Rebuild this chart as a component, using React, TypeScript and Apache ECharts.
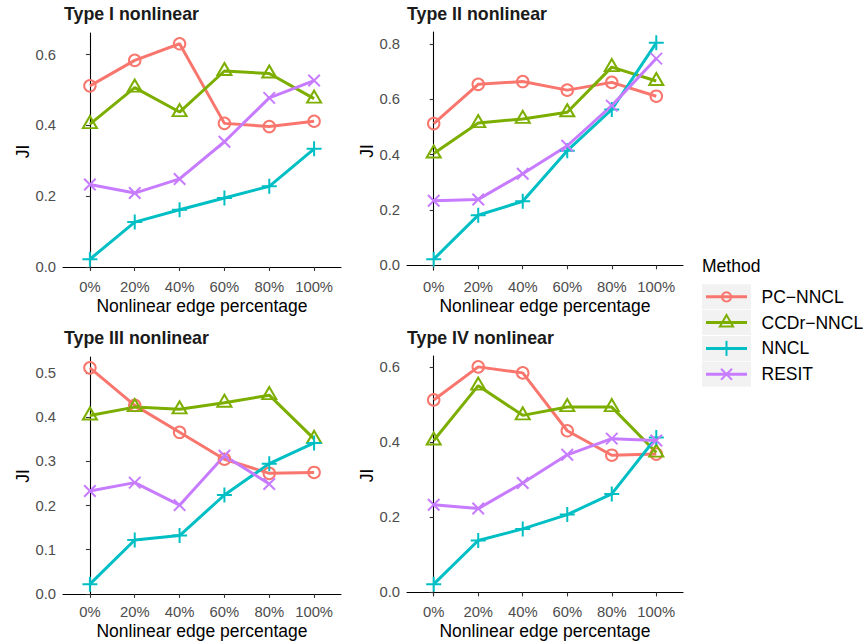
import React, { useEffect, useRef } from "react";
import * as echarts from "echarts";

// ---------- data ----------
const categories = ["0%", "20%", "40%", "60%", "80%", "100%"];
const methods = ["PC−NNCL", "CCDr−NNCL", "NNCL", "RESIT"];
const panelTitles = ["Type I nonlinear", "Type II nonlinear", "Type III nonlinear", "Type IV nonlinear"];

const type1PC = [0.512, 0.584, 0.631, 0.406, 0.397, 0.412];
const type1CCDr = [0.404, 0.507, 0.438, 0.554, 0.547, 0.476];
const type1NNCL = [0.022, 0.127, 0.162, 0.195, 0.228, 0.334];
const type1RESIT = [0.233, 0.209, 0.249, 0.354, 0.478, 0.527];

const type2PC = [0.512, 0.654, 0.664, 0.633, 0.661, 0.611];
const type2CCDr = [0.404, 0.514, 0.529, 0.553, 0.716, 0.666];
const type2NNCL = [0.022, 0.181, 0.231, 0.414, 0.563, 0.804];
const type2RESIT = [0.233, 0.238, 0.331, 0.432, 0.577, 0.747];

const type3PC = [0.512, 0.427, 0.366, 0.305, 0.273, 0.275];
const type3CCDr = [0.404, 0.423, 0.418, 0.433, 0.45, 0.351];
const type3NNCL = [0.022, 0.122, 0.132, 0.224, 0.295, 0.342];
const type3RESIT = [0.233, 0.252, 0.201, 0.313, 0.249, null];

const type4PC = [0.512, 0.6, 0.584, 0.43, 0.365, 0.368];
const type4CCDr = [0.404, 0.55, 0.471, 0.493, 0.493, 0.372];
const type4NNCL = [0.022, 0.138, 0.169, 0.207, 0.262, 0.412];
const type4RESIT = [0.233, 0.223, 0.291, 0.366, 0.409, 0.404];

const yTicks1 = [0, 0.2, 0.4, 0.6];
const yTicks2 = [0, 0.2, 0.4, 0.6, 0.8];
const yTicks3 = [0, 0.1, 0.2, 0.3, 0.4, 0.5];
const yTicks4 = [0, 0.2, 0.4, 0.6];

const panelData: (number | null)[][][] = [
  [type1PC, type1CCDr, type1NNCL, type1RESIT],
  [type2PC, type2CCDr, type2NNCL, type2RESIT],
  [type3PC, type3CCDr, type3NNCL, type3RESIT],
  [type4PC, type4CCDr, type4NNCL, type4RESIT],
];
const panelTicks = [yTicks1, yTicks2, yTicks3, yTicks4];

// ---------- style ----------
const COLORS = ["#F8766D", "#7CAE00", "#00BFC4", "#C77CFF"];
const FONT = "'Liberation Sans', Arial, Helvetica, sans-serif";
const GRIDS = [
  { left: 63, top: 33, width: 278, height: 237 },
  { left: 407, top: 32, width: 276, height: 238 },
  { left: 63, top: 357, width: 278, height: 238 },
  { left: 407, top: 356, width: 276, height: 239 },
];
const TITLE_POS = [
  { left: 64, top: 5 },
  { left: 407, top: 5 },
  { left: 64, top: 329 },
  { left: 407, top: 329 },
];
const LINE_W = 3;

const symbolFor = (m: number) => {
  if (m === 0) return { symbol: "circle", symbolSize: 11.5, symbolOffset: [0, 0] };
  if (m === 1) return { symbol: "triangle", symbolSize: [14, 12], symbolOffset: [0, -2] };
  if (m === 2) return { symbol: "path://M5,0L5,10M0,5L10,5", symbolSize: 15, symbolOffset: [0, 0] };
  return { symbol: "path://M0,0L10,10M10,0L0,10", symbolSize: 11.5, symbolOffset: [0, 0] };
};

export default function App() {
  const ref = useRef<HTMLDivElement>(null);
  useEffect(() => {
    document.body.style.margin = "0";
    if (!ref.current) return;
    const chart = echarts.init(ref.current, undefined, { renderer: "svg" });

    const xAxis: any[] = [];
    const yAxis: any[] = [];
    const series: any[] = [];

    panelData.forEach((groups, p) => {
      const vals = groups.flat().filter((v) => v != null) as number[];
      const lo = Math.min(...vals);
      const hi = Math.max(...vals);
      const pad = (hi - lo) * 0.05;
      xAxis.push({
        type: "value",
        gridIndex: p,
        min: -0.6,
        max: categories.length - 0.4,
        name: "Nonlinear edge percentage",
        nameLocation: "middle",
        nameGap: 27,
        nameTextStyle: { fontSize: 17.5, color: "#000", fontFamily: FONT, fontWeight: "normal" },
        axisLine: { show: true, lineStyle: { color: "#000", width: 1.1 } },
        axisTick: {
          show: true,
          length: 4,
          lineStyle: { color: "#333", width: 1.1 },
          customValues: categories.map((_, i) => i),
        },
        axisLabel: {
          show: true,
          fontSize: 14.8,
          color: "#4D4D4D",
          margin: 9,
          fontFamily: FONT,
          customValues: categories.map((_, i) => i),
          formatter: (v: number) => categories[Math.round(v)] ?? "",
        },
        splitLine: { show: false },
      });
      yAxis.push({
        type: "value",
        gridIndex: p,
        min: lo - pad,
        max: hi + pad,
        name: "JI",
        nameLocation: "middle",
        nameRotate: 90,
        nameGap: 28,
        nameTextStyle: { fontSize: 17.5, color: "#000", fontFamily: FONT, fontWeight: "normal" },
        axisLine: { show: true, lineStyle: { color: "#000", width: 1.1 } },
        axisTick: {
          show: true,
          length: 4,
          lineStyle: { color: "#333", width: 1.1 },
          customValues: panelTicks[p],
        },
        axisLabel: {
          show: true,
          fontSize: 14.8,
          color: "#4D4D4D",
          margin: 7,
          fontFamily: FONT,
          customValues: panelTicks[p],
          formatter: (v: number) => v.toFixed(1),
        },
        splitLine: { show: false },
      });
      groups.forEach((vals2, m) => {
        const sym = symbolFor(m);
        series.push({
          type: "line",
          name: methods[m],
          xAxisIndex: p,
          yAxisIndex: p,
          data: vals2
            .map((v, i) => (v == null ? null : [i, v]))
            .filter((d) => d != null),
          symbol: sym.symbol,
          symbolSize: sym.symbolSize,
          symbolOffset: sym.symbolOffset,
          showSymbol: true,
          showAllSymbol: true,
          lineStyle: { color: COLORS[m], width: LINE_W },
          itemStyle: { color: "rgba(0,0,0,0)", borderColor: COLORS[m], borderWidth: 2 },
          emphasis: { disabled: true },
          silent: true,
          z: 2,
        });
      });
    });

    // legend (drawn as graphics)
    const legendEls: any[] = [];
    legendEls.push({
      type: "text",
      left: 702,
      top: 257,
      style: { text: "Method", fontSize: 17.5, fill: "#000", fontFamily: FONT },
    });
    const rowTop0 = 284.3;
    const pitch = 25.8;
    methods.forEach((name, m) => {
      const top = rowTop0 + m * pitch;
      const cy = top + 12.5;
      const cx = 726.5;
      const c = COLORS[m];
      legendEls.push({
        type: "rect",
        shape: { x: 702, y: top, width: 49, height: 25 },
        style: { fill: "#F2F2F2" },
      });
      legendEls.push({
        type: "line",
        shape: { x1: 706, y1: cy, x2: 747, y2: cy },
        style: { stroke: c, lineWidth: LINE_W },
      });
      if (m === 0) {
        legendEls.push({
          type: "circle",
          shape: { cx, cy, r: 4.6 },
          style: { fill: "none", stroke: c, lineWidth: 2 },
        });
      } else if (m === 1) {
        const r = 7.6;
        const h = r * 0.866;
        legendEls.push({
          type: "polygon",
          shape: { points: [[cx, cy - r], [cx + h, cy + r / 2], [cx - h, cy + r / 2]] },
          style: { fill: "none", stroke: c, lineWidth: 2 },
        });
      } else if (m === 2) {
        legendEls.push({ type: "line", shape: { x1: cx - 7, y1: cy, x2: cx + 7, y2: cy }, style: { stroke: c, lineWidth: 2 } });
        legendEls.push({ type: "line", shape: { x1: cx, y1: cy - 7.5, x2: cx, y2: cy + 7.5 }, style: { stroke: c, lineWidth: 2 } });
      } else {
        legendEls.push({ type: "line", shape: { x1: cx - 5.5, y1: cy - 5.5, x2: cx + 5.5, y2: cy + 5.5 }, style: { stroke: c, lineWidth: 2 } });
        legendEls.push({ type: "line", shape: { x1: cx - 5.5, y1: cy + 5.5, x2: cx + 5.5, y2: cy - 5.5 }, style: { stroke: c, lineWidth: 2 } });
      }
      legendEls.push({
        type: "text",
        x: 761.5,
        y: cy,
        style: { text: name, fontSize: 17.5, fill: "#000", fontFamily: FONT, verticalAlign: "middle", align: "left" },
      });
    });

    chart.setOption({
      animation: false,
      backgroundColor: "#fff",
      textStyle: { fontFamily: FONT },
      title: panelTitles.map((t, i) => ({
        text: t,
        left: TITLE_POS[i].left,
        top: TITLE_POS[i].top,
        padding: 0,
        textStyle: { fontSize: 17.8, fontWeight: "bold", color: "#1a1a1a", fontFamily: FONT },
      })),
      grid: GRIDS.map((g) => ({ ...g, containLabel: false })),
      xAxis,
      yAxis,
      series,
      graphic: legendEls,
    });
    return () => chart.dispose();
  }, []);
  return <div ref={ref} style={{ width: 866, height: 642 }} />;
}
